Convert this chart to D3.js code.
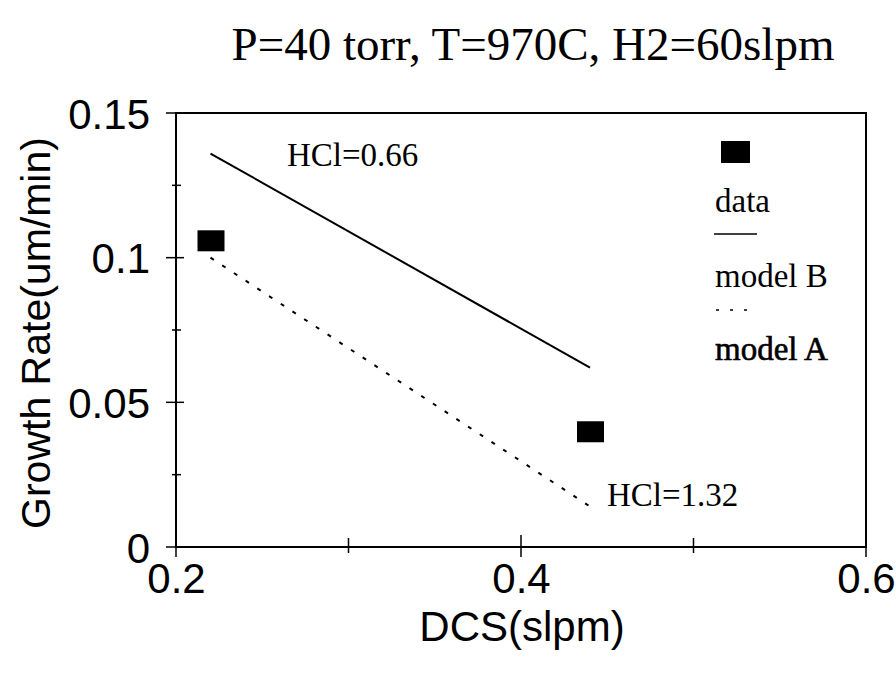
<!DOCTYPE html>
<html><head><meta charset="utf-8">
<script src="https://cdn.jsdelivr.net/npm/d3@7"></script>
<style>body{margin:0;background:#fff}</style>
</head><body>
<svg id="c" width="896" height="677"></svg>
<script>
const title = "P=40 torr, T=970C, H2=60slpm";
const xLabel = "DCS(slpm)";
const yLabel = "Growth Rate(um/min)";
const xTicks = [0.2, 0.4, 0.6];
const xMinorTicks = [0.3, 0.5];
const yTicks = [0, 0.05, 0.1, 0.15];
const yTickLabels = ["0", "0.05", "0.1", "0.15"];
const yMinorTicks = [0.025, 0.075, 0.125];
const dataX = [0.22, 0.44];
const dataY = [0.106, 0.040];
const modelBX = [0.22, 0.44];
const modelBY = [0.136, 0.062];
const modelAX = [0.22, 0.44];
const modelAY = [0.100, 0.014];
const legendLabels = ["data", "model B", "model A"];

const svg = d3.select("#c");
const L = 176, R = 866, T = 113, B = 547;
const x = d3.scaleLinear().domain([0.2, 0.6]).range([L, R]);
const y = d3.scaleLinear().domain([0, 0.15]).range([B, T]);
const serif = "'Liberation Serif','Times New Roman',serif";
const sans = "'Liberation Sans',Arial,Helvetica,sans-serif";

svg.append("text").attr("x", 533).attr("y", 60).attr("text-anchor", "middle")
  .attr("font-family", serif).attr("font-size", 47).text(title);

// frame
svg.append("rect").attr("x", L).attr("y", T).attr("width", R - L).attr("height", B - T)
  .attr("fill", "none").attr("stroke", "#000").attr("stroke-width", 2);

// x axis
const xa = svg.append("g").attr("transform", `translate(0,${B})`)
  .call(d3.axisBottom(x).tickValues(xTicks).tickSize(0).tickPadding(0).tickFormat(d3.format(".1f")));
xa.select(".domain").remove();
xa.selectAll("text").attr("font-family", sans).attr("font-size", 42).attr("fill", "#000")
  .attr("dy", null).attr("y", 46);
xTicks.concat(xMinorTicks).forEach(v => {
  const major = xTicks.includes(v);
  svg.append("line").attr("x1", x(v)).attr("x2", x(v))
    .attr("y1", B - (major ? 12 : 9)).attr("y2", B + (major ? 10 : 6))
    .attr("stroke", "#000").attr("stroke-width", 1.5);
});

// y axis
const ya = svg.append("g").attr("transform", `translate(${L},0)`)
  .call(d3.axisLeft(y).tickValues(yTicks).tickSize(0).tickPadding(0).tickFormat((d, i) => yTickLabels[i]));
ya.select(".domain").remove();
ya.selectAll("text").attr("font-family", sans).attr("font-size", 42).attr("fill", "#000")
  .attr("x", -26).attr("dy", "0.36em");
yTicks.concat(yMinorTicks).forEach(v => {
  const major = yTicks.includes(v);
  svg.append("line").attr("y1", y(v)).attr("y2", y(v))
    .attr("x1", L - (major ? 10 : 4)).attr("x2", L + (major ? 8 : 5))
    .attr("stroke", "#000").attr("stroke-width", 1.5);
});

svg.append("text").attr("x", 522).attr("y", 641).attr("text-anchor", "middle")
  .attr("font-family", sans).attr("font-size", 42).text(xLabel);
svg.append("text").attr("transform", "translate(50,333) rotate(-90)").attr("text-anchor", "middle")
  .attr("font-family", sans).attr("font-size", 41).text(yLabel);

// lines
const line = d3.line().x(d => x(d[0])).y(d => y(d[1]));
svg.append("path").attr("d", line(modelBX.map((v, i) => [v, modelBY[i]])))
  .attr("fill", "none").attr("stroke", "#000").attr("stroke-width", 2);
svg.append("path").attr("d", line(modelAX.map((v, i) => [v, modelAY[i]])))
  .attr("fill", "none").attr("stroke", "#000").attr("stroke-width", 2).attr("stroke-dasharray", "4,10");

// data squares
svg.selectAll("rect.pt").data(dataX.map((v, i) => [v, dataY[i]])).enter().append("rect")
  .attr("class", "pt").attr("x", d => x(d[0]) - 13).attr("y", d => y(d[1]) - 10)
  .attr("width", 27).attr("height", 21).attr("fill", "#000");

// annotations
svg.append("text").attr("x", 287).attr("y", 166).attr("font-family", serif).attr("font-size", 33).text("HCl=0.66");
svg.append("text").attr("x", 607).attr("y", 506).attr("font-family", serif).attr("font-size", 33).text("HCl=1.32");

// legend
svg.append("rect").attr("x", 721).attr("y", 141).attr("width", 29).attr("height", 22).attr("fill", "#000");
svg.append("text").attr("x", 715).attr("y", 212).attr("font-family", serif).attr("font-size", 33).text(legendLabels[0]);
svg.append("line").attr("x1", 714).attr("x2", 757).attr("y1", 234).attr("y2", 234).attr("stroke", "#000").attr("stroke-width", 1.5);
svg.append("text").attr("x", 715).attr("y", 287).attr("font-family", serif).attr("font-size", 33).text(legendLabels[1]);
svg.append("line").attr("x1", 716).attr("x2", 753).attr("y1", 310).attr("y2", 310).attr("stroke", "#000").attr("stroke-width", 1.5).attr("stroke-dasharray", "3,11");
svg.append("text").attr("x", 715).attr("y", 360).attr("font-family", serif).attr("font-size", 33)
  .attr("stroke", "#000").attr("stroke-width", 0.6).text(legendLabels[2]);
</script>
</body></html>
